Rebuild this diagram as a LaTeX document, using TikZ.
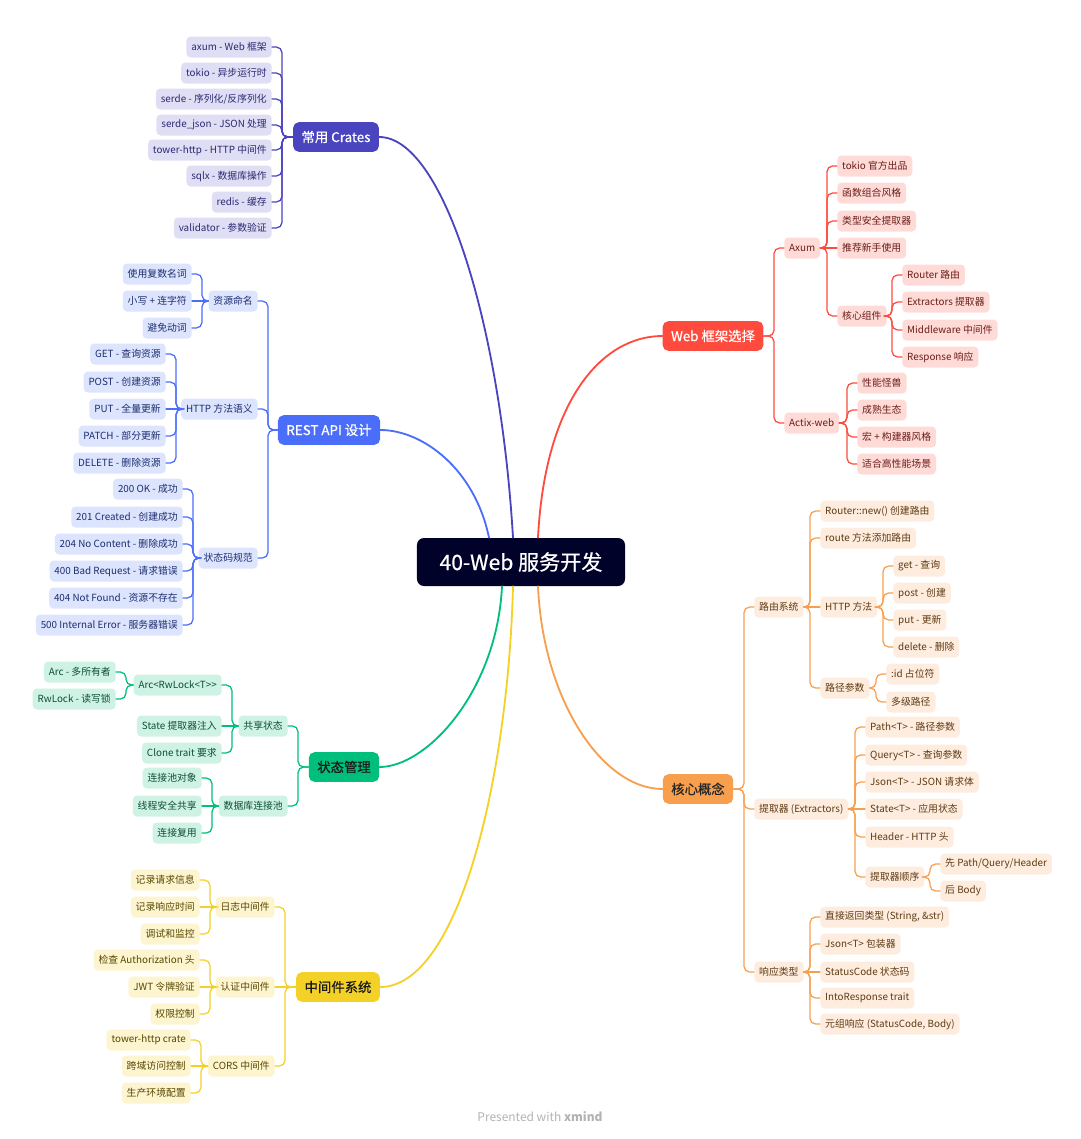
\documentclass[tikz,border=0pt]{standalone}
\usepackage{fontspec}
\setmainfont{Noto Sans CJK SC}
\newfontfamily\topicfont{Noto Sans CJK SC}[FakeBold=0.6]
\usetikzlibrary{calc}

\definecolor{hubC}{HTML}{000229}
\definecolor{indM}{HTML}{4A44BF}
\definecolor{indL}{HTML}{DFDEF5}
\definecolor{indT}{HTML}{2C2870}
\definecolor{bluM}{HTML}{4B6EFA}
\definecolor{bluL}{HTML}{DDE4FE}
\definecolor{bluT}{HTML}{1C2E6E}
\definecolor{grnM}{HTML}{00BE7B}
\definecolor{grnL}{HTML}{CEF2E4}
\definecolor{grnT}{HTML}{0D4F36}
\definecolor{ylwM}{HTML}{F4D126}
\definecolor{ylwL}{HTML}{FDF5D0}
\definecolor{ylwT}{HTML}{574700}
\definecolor{redM}{HTML}{FE4B3E}
\definecolor{redL}{HTML}{FFDBD8}
\definecolor{redT}{HTML}{6A1C16}
\definecolor{orgM}{HTML}{F89F4D}
\definecolor{orgL}{HTML}{FEEDDE}
\definecolor{orgT}{HTML}{5E3A14}

\begin{document}
\begin{tikzpicture}[x=0.025cm, y=-0.025cm, line cap=round,
    hub/.style={fill=hubC, text=white, rounded corners=5pt, minimum width=5.2cm, minimum height=1.2cm, font=\topicfont\fontsize{15}{17}\selectfont},
    topic/.style={rounded corners=4pt, minimum height=0.74cm, inner xsep=6pt, font=\topicfont\fontsize{9.5}{11}\selectfont},
    leaf/.style={rounded corners=3pt, minimum height=0.525cm, inner xsep=3.5pt, inner ysep=0pt, font=\fontsize{7}{8}\selectfont},
    crate box/.style={leaf, fill=indL, text=indT},
    rest box/.style={leaf, fill=bluL, text=bluT},
    state box/.style={leaf, fill=grnL, text=grnT},
    mw box/.style={leaf, fill=ylwL, text=ylwT},
    web box/.style={leaf, fill=redL, text=redT},
    core box/.style={leaf, fill=orgL, text=orgT},
    crate line/.style={draw=indM, line width=0.9pt, rounded corners=4pt},
    rest line/.style={draw=bluM, line width=0.9pt, rounded corners=4pt},
    state line/.style={draw=grnM, line width=0.9pt, rounded corners=4pt},
    mw line/.style={draw=ylwM, line width=0.9pt, rounded corners=4pt},
    web line/.style={draw=redM, line width=0.9pt, rounded corners=4pt},
    core line/.style={draw=orgM, line width=0.9pt, rounded corners=4pt},
    trunk/.style={line width=1.3pt}]

\useasboundingbox (0,0) rectangle (1080,1139);

\node[hub] (hub) at (521,562) {40-Web 服务开发};

% left side
\node[topic, fill=indM, text=white] (crates) at (336,137) {常用 Crates};
\node[topic, fill=bluM, text=white] (rest) at (329,430) {REST API 设计};
\node[topic, fill=grnM, text=black!90] (state) at (344,767) {状态管理};
\node[topic, fill=ylwM, text=black!90] (mw) at (338,987) {中间件系统};

\node[crate box, anchor=east] (cr1) at (272,47) {axum - Web 框架};
\node[crate box, anchor=east] (cr2) at (272,73) {tokio - 异步运行时};
\node[crate box, anchor=east] (cr3) at (272,99) {serde - 序列化/反序列化};
\node[crate box, anchor=east] (cr4) at (272,125) {serde\_json - JSON 处理};
\node[crate box, anchor=east] (cr5) at (272,150) {tower-http - HTTP 中间件};
\node[crate box, anchor=east] (cr6) at (272,176) {sqlx - 数据库操作};
\node[crate box, anchor=east] (cr7) at (272,202) {redis - 缓存};
\node[crate box, anchor=east] (cr8) at (272,228) {validator - 参数验证};

\node[rest box, anchor=east] (rn) at (258,301) {资源命名};
\node[rest box, anchor=east] (rn1) at (192,274) {使用复数名词};
\node[rest box, anchor=east] (rn2) at (192,301) {小写 + 连字符};
\node[rest box, anchor=east] (rn3) at (192,328) {避免动词};
\node[rest box, anchor=east] (hm) at (258,409) {HTTP 方法语义};
\node[rest box, anchor=east] (hm1) at (166,354) {GET - 查询资源};
\node[rest box, anchor=east] (hm2) at (166,382) {POST - 创建资源};
\node[rest box, anchor=east] (hm3) at (166,409) {PUT - 全量更新};
\node[rest box, anchor=east] (hm4) at (166,436) {PATCH - 部分更新};
\node[rest box, anchor=east] (hm5) at (166,463) {DELETE - 删除资源};
\node[rest box, anchor=east] (sc) at (258,558) {状态码规范};
\node[rest box, anchor=east] (sc1) at (183,489) {200 OK - 成功};
\node[rest box, anchor=east] (sc2) at (183,517) {201 Created - 创建成功};
\node[rest box, anchor=east] (sc3) at (183,544) {204 No Content - 删除成功};
\node[rest box, anchor=east] (sc4) at (183,571) {400 Bad Request - 请求错误};
\node[rest box, anchor=east] (sc5) at (183,598) {404 Not Found - 资源不存在};
\node[rest box, anchor=east] (sc6) at (183,625) {500 Internal Error - 服务器错误};

\node[state box, anchor=east] (ss) at (288,726) {共享状态};
\node[state box, anchor=east] (arc) at (222,685) {Arc<RwLock<T>{}>};
\node[state box, anchor=east] (arc1) at (116,672) {Arc - 多所有者};
\node[state box, anchor=east] (arc2) at (116,699) {RwLock - 读写锁};
\node[state box, anchor=east] (ss2) at (222,726) {State 提取器注入};
\node[state box, anchor=east] (ss3) at (222,753) {Clone trait 要求};
\node[state box, anchor=east] (db) at (288,806) {数据库连接池};
\node[state box, anchor=east] (db1) at (202,778) {连接池对象};
\node[state box, anchor=east] (db2) at (202,806) {线程安全共享};
\node[state box, anchor=east] (db3) at (202,833) {连接复用};

\node[mw box, anchor=east] (log) at (275,907) {日志中间件};
\node[mw box, anchor=east] (log1) at (200,880) {记录请求信息};
\node[mw box, anchor=east] (log2) at (200,907) {记录响应时间};
\node[mw box, anchor=east] (log3) at (200,934) {调试和监控};
\node[mw box, anchor=east] (auth) at (275,987) {认证中间件};
\node[mw box, anchor=east] (auth1) at (200,960) {检查 Authorization 头};
\node[mw box, anchor=east] (auth2) at (200,987) {JWT 令牌验证};
\node[mw box, anchor=east] (auth3) at (200,1014) {权限控制};
\node[mw box, anchor=east] (cors) at (275,1066) {CORS 中间件};
\node[mw box, anchor=east] (cors1) at (191,1040) {tower-http crate};
\node[mw box, anchor=east] (cors2) at (191,1066) {跨域访问控制};
\node[mw box, anchor=east] (cors3) at (191,1093) {生产环境配置};

% right side
\node[topic, fill=redM, text=white] (web) at (713,336) {Web 框架选择};
\node[topic, fill=orgM, text=black!85] (core) at (698,789) {核心概念};

\node[web box, anchor=west] (axum) at (784,248) {Axum};
\node[web box, anchor=west] (ax1) at (837,166) {tokio 官方出品};
\node[web box, anchor=west] (ax2) at (837,193) {函数组合风格};
\node[web box, anchor=west] (ax3) at (837,221) {类型安全提取器};
\node[web box, anchor=west] (ax4) at (837,248) {推荐新手使用};
\node[web box, anchor=west] (comp) at (837,316) {核心组件};
\node[web box, anchor=west] (comp1) at (902,275) {Router 路由};
\node[web box, anchor=west] (comp2) at (902,302) {Extractors 提取器};
\node[web box, anchor=west] (comp3) at (902,330) {Middleware 中间件};
\node[web box, anchor=west] (comp4) at (902,357) {Response 响应};
\node[web box, anchor=west] (actix) at (784,423) {Actix-web};
\node[web box, anchor=west] (ac1) at (857,383) {性能怪兽};
\node[web box, anchor=west] (ac2) at (857,410) {成熟生态};
\node[web box, anchor=west] (ac3) at (857,437) {宏 + 构建器风格};
\node[web box, anchor=west] (ac4) at (857,464) {适合高性能场景};

\node[core box, anchor=west] (route) at (754,607) {路由系统};
\node[core box, anchor=west] (rt1) at (820,511) {Router::new() 创建路由};
\node[core box, anchor=west] (rt2) at (820,538) {route 方法添加路由};
\node[core box, anchor=west] (hmeth) at (820,607) {HTTP 方法};
\node[core box, anchor=west] (hmeth1) at (893,566) {get - 查询};
\node[core box, anchor=west] (hmeth2) at (893,593) {post - 创建};
\node[core box, anchor=west] (hmeth3) at (893,620) {put - 更新};
\node[core box, anchor=west] (hmeth4) at (893,647) {delete - 删除};
\node[core box, anchor=west] (path) at (820,688) {路径参数};
\node[core box, anchor=west] (path1) at (886,674) {:id 占位符};
\node[core box, anchor=west] (path2) at (886,702) {多级路径};
\node[core box, anchor=west] (ext) at (754,809) {提取器 (Extractors)};
\node[core box, anchor=west] (ex1) at (865,727) {Path<T> - 路径参数};
\node[core box, anchor=west] (ex2) at (865,755) {Query<T> - 查询参数};
\node[core box, anchor=west] (ex3) at (865,782) {Json<T> - JSON 请求体};
\node[core box, anchor=west] (ex4) at (865,809) {State<T> - 应用状态};
\node[core box, anchor=west] (ex5) at (865,837) {Header - HTTP 头};
\node[core box, anchor=west] (order) at (865,877) {提取器顺序};
\node[core box, anchor=west] (order1) at (940,864) {先 Path/Query/Header};
\node[core box, anchor=west] (order2) at (940,891) {后 Body};
\node[core box, anchor=west] (resp) at (754,972) {响应类型};
\node[core box, anchor=west] (rs1) at (820,917) {直接返回类型 (String, \&str)};
\node[core box, anchor=west] (rs2) at (820,944) {Json<T> 包装器};
\node[core box, anchor=west] (rs3) at (820,972) {StatusCode 状态码};
\node[core box, anchor=west] (rs4) at (820,998) {IntoResponse trait};
\node[core box, anchor=west] (rs5) at (820,1024) {元组响应 (StatusCode, Body)};

\node[text=black!30, font=\fontsize{8.5}{10}\selectfont] (credit) at (540,1117) {Presented with \textbf{xmind}};

% trunks
\draw[crate line, trunk] (crates.east) .. controls +(63,0) and +(-13,-218) .. ($(hub.north)+(-8,0)$);
\draw[rest line, trunk] (rest.east) .. controls +(43,0) and +(-14,-68) .. ($(hub.north)+(-32,0)$);
\draw[web line, trunk] (web.west) .. controls +(-60,0) and +(7,-138) .. ($(hub.north)+(17,0)$);
\draw[state line, trunk] (state.east) .. controls +(48,0) and +(-5,104) .. ($(hub.south)+(-19,0)$);
\draw[mw line, trunk] (mw.east) .. controls +(78,0) and +(-5,194) .. ($(hub.south)+(-8,0)$);
\draw[core line, trunk] (core.west) .. controls +(-60,0) and +(5,114) .. ($(hub.south)+(17,0)$);

% branches, left
\foreach \n in {cr1,cr2,cr3,cr4,cr5,cr6,cr7,cr8}
    \draw[crate line] (\n.east) -- ++(10,0) |- (crates.west);
\foreach \n in {rn,hm,sc}
    \draw[rest line] (\n.east) -- ++(10,0) |- (rest.west);
\foreach \n in {rn1,rn3}
    \draw[rest line] (\n.east) -- ++(10,0) |- (rn.west);
\draw[rest line] (rn2.east) -- (rn.west);
\foreach \n in {hm1,hm2,hm4,hm5}
    \draw[rest line] (\n.east) -- ++(10,0) |- (hm.west);
\draw[rest line] (hm3.east) -- (hm.west);
\foreach \n in {sc1,sc2,sc3,sc4,sc5,sc6}
    \draw[rest line] (\n.east) -- ++(10,0) |- (sc.west);

\foreach \n in {ss,db}
    \draw[state line] (\n.east) -- ++(10,0) |- (state.west);
\foreach \n in {arc,ss3}
    \draw[state line] (\n.east) -- ++(10,0) |- (ss.west);
\draw[state line] (ss2.east) -- (ss.west);
\foreach \n in {arc1,arc2}
    \draw[state line] (\n.east) -- ++(10,0) |- (arc.west);
\foreach \n in {db1,db3}
    \draw[state line] (\n.east) -- ++(10,0) |- (db.west);
\draw[state line] (db2.east) -- (db.west);

\foreach \n in {log,cors}
    \draw[mw line] (\n.east) -- ++(10,0) |- (mw.west);
\draw[mw line] (auth.east) -- (mw.west);
\foreach \p in {log,auth,cors} {
    \draw[mw line] (\p1.east) -- ++(10,0) |- (\p.west);
    \draw[mw line] (\p2.east) -- (\p.west);
    \draw[mw line] (\p3.east) -- ++(10,0) |- (\p.west);
}

% branches, right
\foreach \n in {axum,actix}
    \draw[web line] (\n.west) -- ++(-10,0) |- (web.east);
\foreach \n in {ax1,ax2,ax3,comp}
    \draw[web line] (\n.west) -- ++(-10,0) |- (axum.east);
\draw[web line] (ax4.west) -- (axum.east);
\foreach \n in {comp1,comp2,comp3,comp4}
    \draw[web line] (\n.west) -- ++(-10,0) |- (comp.east);
\foreach \n in {ac1,ac2,ac3,ac4}
    \draw[web line] (\n.west) -- ++(-10,0) |- (actix.east);

\foreach \n in {route,ext,resp}
    \draw[core line] (\n.west) -- ++(-10,0) |- (core.east);
\foreach \n in {rt1,rt2,path}
    \draw[core line] (\n.west) -- ++(-10,0) |- (route.east);
\draw[core line] (hmeth.west) -- (route.east);
\foreach \n in {hmeth1,hmeth2,hmeth3,hmeth4}
    \draw[core line] (\n.west) -- ++(-10,0) |- (hmeth.east);
\foreach \n in {path1,path2}
    \draw[core line] (\n.west) -- ++(-10,0) |- (path.east);
\foreach \n in {ex1,ex2,ex3,ex5,order}
    \draw[core line] (\n.west) -- ++(-10,0) |- (ext.east);
\draw[core line] (ex4.west) -- (ext.east);
\foreach \n in {order1,order2}
    \draw[core line] (\n.west) -- ++(-10,0) |- (order.east);
\foreach \n in {rs1,rs2,rs4,rs5}
    \draw[core line] (\n.west) -- ++(-10,0) |- (resp.east);
\draw[core line] (rs3.west) -- (resp.east);
\end{tikzpicture}
\end{document}
